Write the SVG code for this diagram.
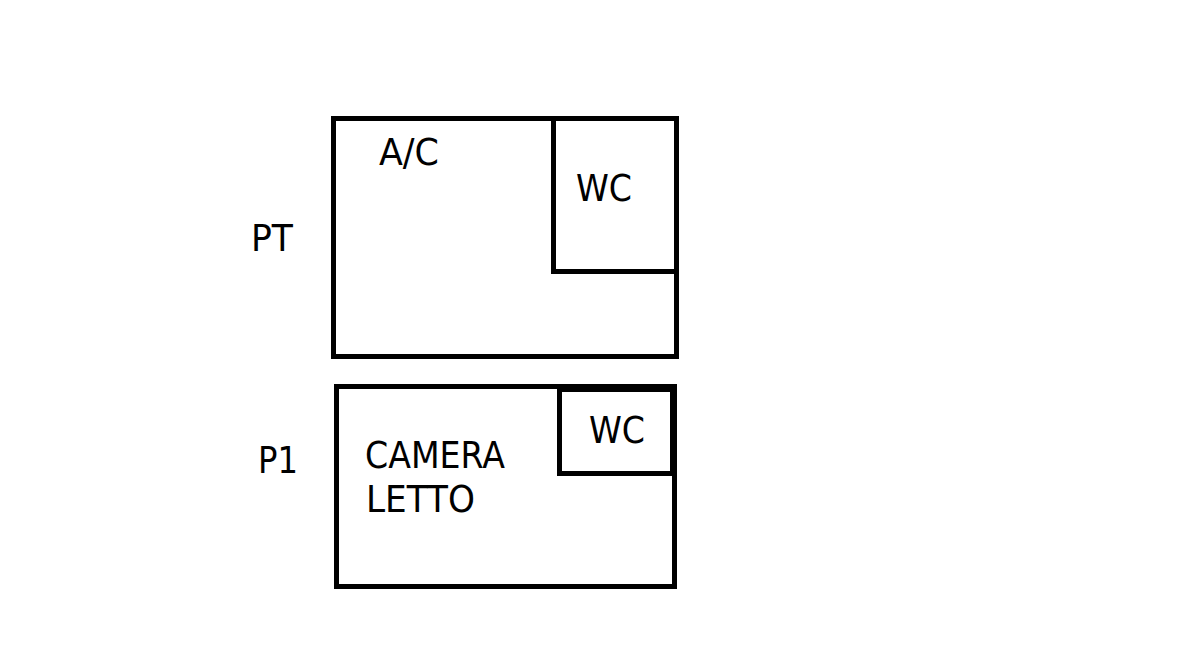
<svg xmlns="http://www.w3.org/2000/svg" width="1180" height="658" viewBox="0 0 1180 658">
<style>
.b{fill:none;stroke:#000;stroke-width:5}
text{font-family:"DejaVu Sans","Liberation Sans",sans-serif;font-size:37px;fill:#000}
</style>
<rect width="1180" height="658" fill="#fff"/>
<g id="pt-label"><text x="251" y="251" textLength="42" lengthAdjust="spacingAndGlyphs">PT</text></g>
<g id="pt"><rect class="b" x="333.5" y="118.5" width="343" height="238"/><text x="379" y="165" textLength="60" lengthAdjust="spacingAndGlyphs">A/C</text></g>
<g id="pt-wc"><rect class="b" x="553.5" y="118.5" width="123" height="153"/><text x="576" y="201" textLength="56" lengthAdjust="spacingAndGlyphs">WC</text></g>
<g id="p1-label"><text x="258" y="473" textLength="40" lengthAdjust="spacingAndGlyphs">P1</text></g>
<g id="p1"><rect class="b" x="336.5" y="386.5" width="338" height="200"/><text x="365" y="468" textLength="140" lengthAdjust="spacingAndGlyphs">CAMERA</text><text x="366" y="512" textLength="109" lengthAdjust="spacingAndGlyphs">LETTO</text></g>
<g id="p1-wc"><rect class="b" x="559.5" y="389.5" width="113" height="84"/><text x="589" y="443" textLength="56" lengthAdjust="spacingAndGlyphs">WC</text></g>
<g id="connectors"></g>
</svg>
